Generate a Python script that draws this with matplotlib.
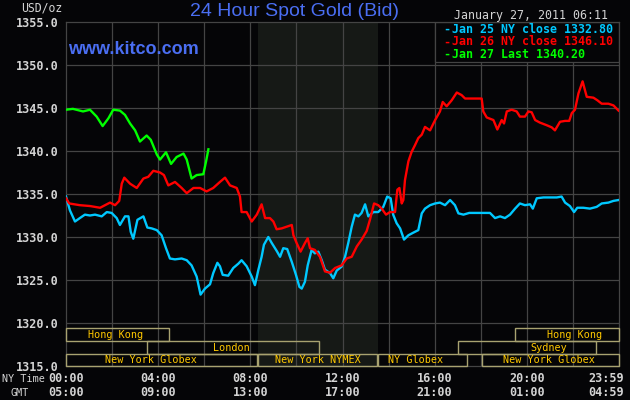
import matplotlib
matplotlib.use("Agg")
import matplotlib.pyplot as plt
from matplotlib.patches import Rectangle

# ---------------- data ----------------
jan25_hours = [0.0, 0.17, 0.39, 0.6, 0.82, 1.04, 1.26, 1.55, 1.77, 1.98, 2.2, 2.34, 2.56, 2.71, 2.81, 2.92,
               3.1, 3.36, 3.53, 3.72, 3.94, 4.15, 4.34, 4.51, 4.73, 5.02, 5.24, 5.45, 5.67, 5.84, 6.03, 6.25,
               6.39, 6.57, 6.68, 6.8, 7.04, 7.26, 7.48, 7.62, 7.84, 8.06, 8.2, 8.35, 8.49, 8.59, 8.78, 8.93,
               9.14, 9.29, 9.43, 9.6, 9.8, 9.98, 10.13, 10.23, 10.37, 10.49, 10.66, 10.8, 10.95, 11.1, 11.24,
               11.46, 11.6, 11.75, 11.96, 12.11, 12.25, 12.4, 12.54, 12.69, 12.83, 12.98, 13.12, 13.34, 13.55,
               13.77, 13.94, 14.09, 14.2, 14.35, 14.5, 14.67, 14.86, 15.07, 15.29, 15.44, 15.58, 15.8, 16.02,
               16.23, 16.45, 16.67, 16.88, 17.03, 17.25, 17.5, 18.4, 18.62, 18.84, 19.05, 19.27, 19.49, 19.7,
               19.92, 20.14, 20.26, 20.43, 20.72, 21.0, 21.3, 21.51, 21.66, 21.87, 22.05, 22.19, 22.45, 22.74,
               23.03, 23.25, 23.54, 23.76, 23.98]
jan25_price = [1334.7, 1333.1, 1331.8, 1332.2, 1332.6, 1332.5, 1332.6, 1332.4, 1332.9, 1332.8, 1332.2, 1331.4,
               1332.4, 1332.4, 1330.6, 1329.8, 1332.0, 1332.4, 1331.1, 1331.0, 1330.8, 1330.2, 1328.7, 1327.5,
               1327.4, 1327.5, 1327.3, 1326.7, 1325.4, 1323.3, 1324.0, 1324.5, 1325.8, 1327.0, 1326.6, 1325.6,
               1325.5, 1326.4, 1326.9, 1327.3, 1326.6, 1325.4, 1324.4, 1326.2, 1327.7, 1329.1, 1330.0, 1329.3,
               1328.4, 1327.7, 1328.7, 1328.6, 1327.1, 1325.6, 1324.2, 1324.0, 1324.8, 1326.7, 1328.5, 1328.1,
               1328.3, 1327.3, 1326.2, 1325.8, 1325.2, 1326.1, 1326.55, 1327.7, 1329.3, 1331.2, 1332.6, 1332.4,
               1332.8, 1333.8, 1332.4, 1332.9, 1332.9, 1333.5, 1334.7, 1334.5, 1332.6, 1331.6, 1331.0, 1329.7,
               1330.2, 1330.5, 1330.8, 1332.75, 1333.3, 1333.7, 1333.9, 1334.0, 1333.7, 1334.3, 1333.7, 1332.75,
               1332.6, 1332.8, 1332.8, 1332.2, 1332.4, 1332.2, 1332.6, 1333.3, 1333.9, 1333.7, 1333.8, 1333.3,
               1334.5, 1334.6, 1334.6, 1334.6, 1334.7, 1334.0, 1333.6, 1332.9, 1333.4, 1333.4, 1333.3, 1333.5,
               1333.9, 1334.0, 1334.2, 1334.3]

jan26_hours = [0.0, 0.14, 0.6, 1.04, 1.48, 1.91, 2.13, 2.31, 2.42, 2.53, 2.78, 3.07, 3.36, 3.57, 3.79, 4.08,
               4.25, 4.44, 4.73, 5.02, 5.24, 5.53, 5.82, 6.1, 6.39, 6.68, 6.9, 7.12, 7.41, 7.55, 7.62, 7.84,
               8.06, 8.28, 8.49, 8.64, 8.85, 9.0, 9.14, 9.36, 9.58, 9.8, 9.87, 10.01, 10.18, 10.37, 10.49,
               10.59, 10.8, 11.02, 11.24, 11.46, 11.68, 11.96, 12.18, 12.4, 12.62, 12.83, 13.05, 13.19, 13.37,
               13.55, 13.7, 13.89, 14.06, 14.28, 14.38, 14.47, 14.57, 14.64, 14.71, 14.86, 15.0, 15.15, 15.29,
               15.44, 15.58, 15.8, 16.02, 16.23, 16.35, 16.52, 16.74, 16.96, 17.17, 17.32, 18.04, 18.11, 18.26,
               18.55, 18.72, 18.91, 19.01, 19.13, 19.34, 19.56, 19.7, 19.92, 20.07, 20.21, 20.36, 20.57, 20.86,
               21.08, 21.22, 21.44, 21.66, 21.84, 21.95, 22.09, 22.24, 22.42, 22.6, 22.89, 23.06, 23.25, 23.54,
               23.76, 23.98]
jan26_price = [1334.5, 1333.9, 1333.7, 1333.6, 1333.4, 1334.0, 1333.7, 1334.2, 1336.2, 1336.9, 1336.2, 1335.7,
               1336.8, 1337.0, 1337.7, 1337.5, 1337.2, 1336.0, 1336.4, 1335.7, 1335.1, 1335.7, 1335.7, 1335.3,
               1335.7, 1336.4, 1336.9, 1336.0, 1335.7, 1334.7, 1332.9, 1332.9, 1331.8, 1332.6, 1333.8, 1332.2,
               1332.2, 1331.8, 1330.9, 1331.0, 1331.2, 1331.4, 1330.2, 1329.3, 1328.3, 1329.3, 1329.85, 1328.7,
               1328.5, 1327.7, 1326.0, 1325.85, 1326.4, 1326.7, 1327.5, 1327.7, 1328.9, 1329.7, 1330.7, 1332.0,
               1333.9, 1333.7, 1333.3, 1332.6, 1332.9, 1332.9, 1335.5, 1335.7, 1333.9, 1334.3, 1336.6, 1338.8,
               1339.9, 1340.7, 1341.5, 1341.9, 1342.8, 1342.4, 1343.6, 1344.6, 1345.7, 1345.2, 1345.9, 1346.8,
               1346.5, 1346.1, 1346.1, 1344.6, 1343.9, 1343.6, 1342.5, 1343.6, 1343.2, 1344.6, 1344.8, 1344.6,
               1344.0, 1344.0, 1344.6, 1344.5, 1343.6, 1343.3, 1343.0, 1342.75, 1342.4, 1343.4, 1343.5, 1343.5,
               1344.4, 1344.8, 1346.7, 1348.1, 1346.3, 1346.2, 1345.9, 1345.5, 1345.5, 1345.3, 1344.7]

jan27_hours = [0.0, 0.3, 0.74, 1.04, 1.33, 1.59, 1.84, 2.05, 2.34, 2.56, 2.78, 3.0, 3.21, 3.5, 3.68, 3.94,
               4.08, 4.34, 4.56, 4.8, 5.1, 5.24, 5.45, 5.67, 5.96, 6.08, 6.18]
jan27_price = [1344.8, 1344.9, 1344.6, 1344.8, 1344.0, 1342.9, 1343.8, 1344.8, 1344.7, 1344.2, 1343.2, 1342.4,
               1341.1, 1341.8, 1341.3, 1339.6, 1339.0, 1339.85, 1338.5, 1339.3, 1339.7, 1339.0, 1336.8, 1337.2,
               1337.3, 1338.8, 1340.2]

legend_labels = ["Jan 25 NY close 1332.80", "Jan 26 NY close 1346.10", "Jan 27 Last 1340.20"]

y_ticks = [1315, 1320, 1325, 1330, 1335, 1340, 1345, 1350, 1355]
x_tick_hours = [0, 4, 8, 12, 16, 20, 23.983]
ny_labels = ["00:00", "04:00", "08:00", "12:00", "16:00", "20:00", "23:59"]
gmt_labels = ["05:00", "09:00", "13:00", "17:00", "21:00", "01:00", "04:59"]

session_names = ["Hong Kong", "Hong Kong", "London", "Sydney", "New York Globex",
                 "New York NYMEX", "NY Globex", "New York Globex"]
session_start = [0.0, 19.5, 3.5, 17.0, 0.0, 8.35, 13.55, 18.07]
session_end = [4.48, 24.0, 11.0, 23.0, 8.3, 13.5, 17.39, 24.0]
session_row = [0, 0, 1, 1, 2, 2, 2, 2]
session_label_hour = [2.13, 22.05, 7.16, 20.96, 3.67, 10.92, 15.19, 20.96]

# ---------------- style ----------------
BG = "#050507"
GRID = "#444444"
SHADE = "#161916"
BOX = "#a8a270"
BOXTXT = "#ffc800"
TXT = "#d4d4d4"
BLUE = "#4a6ef2"
C25, C26, C27 = "#00c8ff", "#ff0000", "#00ff00"
MONO = "DejaVu Sans Mono"

W, H = 630, 400
fig = plt.figure(figsize=(W / 100, H / 100), dpi=100, facecolor=BG)
L, R, T, B = 66, 619, 22, 366
ax = fig.add_axes([L / W, 1 - B / H, (R - L) / W, (B - T) / H])
ax.set_facecolor(BG)
ax.set_xlim(0, 24)
ax.set_ylim(1315, 1355)

for s in ax.spines.values():
    s.set_color(GRID)
    s.set_linewidth(0.9)

ax.axvspan(8.35, 13.55, color=SHADE, zorder=0.5, lw=0)
for h in range(2, 24, 2):
    ax.axvline(h, color=GRID, lw=0.9, zorder=1)
for v in range(1320, 1355, 5):
    ax.axhline(v, color=GRID, lw=0.9, zorder=1)

# legend box
ax.add_patch(Rectangle((16.0, 1350.35), 8.0, 4.65, facecolor=BG, edgecolor=GRID, lw=0.9, zorder=2))

# session boxes
row_y = [1317.9, 1316.4, 1315.0]
row_h = [1.52, 1.5, 1.4]
for name, s0, s1, r, lh in zip(session_names, session_start, session_end, session_row, session_label_hour):
    ax.add_patch(Rectangle((s0, row_y[r]), s1 - s0, row_h[r], fill=False, edgecolor=BOX,
                           lw=1.0, zorder=3, clip_on=False))
    ax.text(lh, row_y[r] + row_h[r] / 2, name, color=BOXTXT, fontsize=7.3, family=MONO,
            ha="center", va="center", zorder=4)

# series
ax.plot(jan25_hours, jan25_price, color=C25, lw=1.7, zorder=5)
ax.plot(jan26_hours, jan26_price, color=C26, lw=1.7, zorder=6)
ax.plot(jan27_hours, jan27_price, color=C27, lw=1.7, zorder=7)

# y ticks
ax.set_yticks(y_ticks)
ax.set_yticklabels([f"{v:.1f}" for v in y_ticks], color=TXT, family=MONO, fontsize=8.5, fontweight="bold")
ax.tick_params(axis="y", length=0, pad=5)
ax.set_xticks([])

# x labels (two rows)
for h, ny, gm in zip(x_tick_hours, ny_labels, gmt_labels):
    xf = (L + h / 24 * (R - L)) / W
    if h > 23:
        xf = 606 / W
    fig.text(xf, 1 - 378 / H, ny, color=TXT, family=MONO, fontsize=8.5, fontweight="bold", ha="center", va="center")
    fig.text(xf, 1 - 393 / H, gm, color=TXT, family=MONO, fontsize=8.5, fontweight="bold", ha="center", va="center")
fig.text(2 / W, 1 - 379 / H, "NY Time", color=TXT, family=MONO, fontsize=7.3, ha="left", va="center")
fig.text(20 / W, 1 - 393 / H, "GMT", color=TXT, family=MONO, fontsize=7.3, ha="center", va="center")

fig.text(62 / W, 1 - 8 / H, "USD/oz", color=TXT, family=MONO, fontsize=8.3, ha="right", va="center")

# titles
fig.text(294 / W, 1 - 11 / H, "24 Hour Spot Gold (Bid)", color=BLUE, family="Liberation Sans",
         fontsize=14, ha="center", va="center")
fig.text(68 / W, 1 - 49 / H, "www.kitco.com", color=BLUE, family="Liberation Sans",
         fontsize=13, fontweight="bold", ha="left", va="center")
fig.text(608 / W, 1 - 15 / H, "January 27, 2011 06:11", color=TXT, family=MONO,
         fontsize=8.4, ha="right", va="center")

# legend entries
for i, (lab, col) in enumerate(zip(legend_labels, [C25, C26, C27])):
    yy = 1 - (29.3 + 12.4 * i) / H
    fig.text(443 / W, yy, "-", color=col, family=MONO, fontsize=8.4, fontweight="bold", ha="left", va="center")
    fig.text(451.5 / W, yy, lab, color=col, family=MONO, fontsize=8.4, fontweight="bold", ha="left", va="center")

fig.savefig("out.png", dpi=100, facecolor=BG)
